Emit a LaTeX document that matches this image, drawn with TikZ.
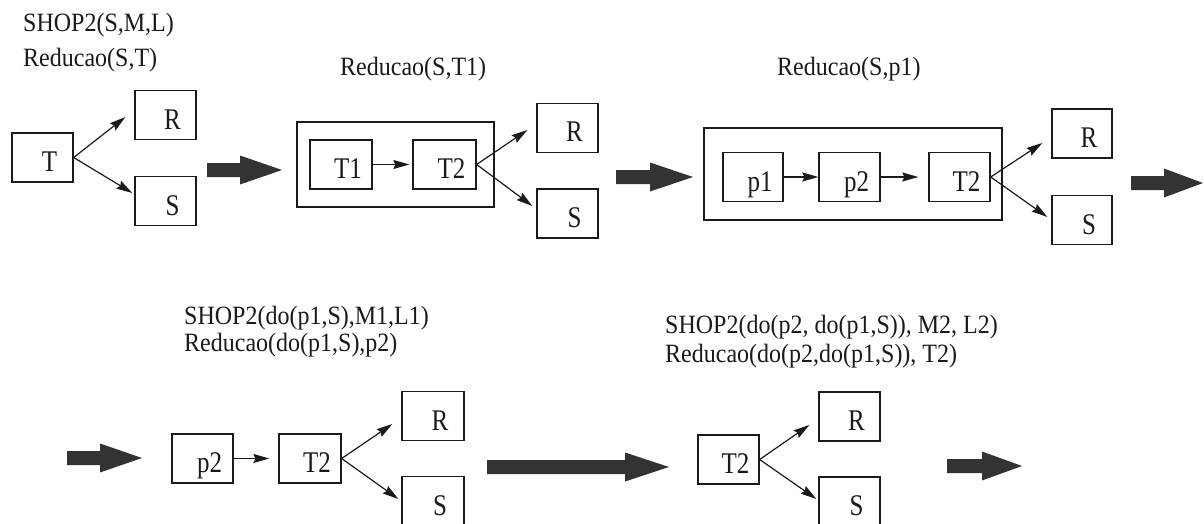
\documentclass[tikz,border=0pt]{standalone}
\usepackage{fontspec}
\usepackage{graphicx}
\setmainfont{Liberation Serif}
\usetikzlibrary{arrows.meta}
\definecolor{ink}{HTML}{1A1A1A}
\definecolor{heavy}{HTML}{333333}
% text inside a task box: a little taller, and right of centre
\newcommand\boxlbl[1]{\hspace*{14pt}\scalebox{1}[1.2]{#1}}
% captions above the stages, slightly tall
\newcommand\capt[1]{\scalebox{1}[1.1]{#1}}
% thick transition arrow: tail x, tip x, head base x, centre y
\newcommand\fatarrow[4]{%
  \fill[heavy] (#1,#4-7) -- (#3,#4-7) -- (#3,#4-14.5) -- (#2,#4)
    -- (#3,#4+14.5) -- (#3,#4+7) -- (#1,#4+7) -- cycle;}
\tikzset{
  box/.style={draw=ink, line width=1.3pt, minimum width=61pt, minimum height=49pt,
    inner sep=0pt, text height=30pt, text depth=2pt, text=ink,
    font=\fontsize{25}{29}\selectfont},
  frame/.style={draw=ink, line width=1.3pt, inner sep=0pt},
  link/.style={draw=ink, line width=1.2pt, -{Stealth[length=16pt,width=9pt,inset=2pt]}},
  caption/.style={anchor=base west, inner sep=0pt, text=ink,
    font=\fontsize{24}{28}\selectfont}
}
\begin{document}
\begin{tikzpicture}[x=1pt,y=-1pt]
\clip (0,0) rectangle (1204,524);
\fill[white] (0,0) rectangle (1204,524);

% ---- stage 1: T splits into R and S
\node[caption] (c1a) at (23,32) {\capt{SHOP2(S,M,L)}};
\node[caption] (c1b) at (23,67) {\capt{Reducao(S,T)}};
\node[box] (T)  at (42.5,157.5) {\boxlbl{T}};
\node[box] (R1) at (165.5,115)  {\boxlbl{R}};
\node[box] (S1) at (165.5,201)  {\boxlbl{S}};
\draw[link] (T.east) -- ([shift={(-9,2)}]R1.west);
\draw[link] (T.east) -- ([shift={(-2,-8)}]S1.west);
\fatarrow{207}{282}{240}{170}

% ---- stage 2: T reduced to T1 -> T2
\node[caption] (c2) at (340,76) {\capt{Reducao(S,T1)}};
\node[frame, minimum width=197pt, minimum height=85pt] (F2) at (395.5,164.5) {};
\node[box, minimum width=62pt] (T1) at (341,164.5) {\boxlbl{T1}};
\node[box, minimum width=63pt] (T2a) at (444.5,164.5) {\boxlbl{T2}};
\node[box] (R2) at (567.5,128)   {\boxlbl{R}};
\node[box] (S2) at (567.5,213.5) {\boxlbl{S}};
\draw[link] (T1.east) -- ([shift={(-3,0)}]T2a.west);
\draw[link] (T2a.east) -- ([shift={(-9,2)}]R2.west);
\draw[link] (T2a.east) -- ([shift={(-4,-7.5)}]S2.west);
\fatarrow{616}{693}{650}{177}

% ---- stage 3: T1 reduced to p1 -> p2
\node[caption] (c3) at (777,76) {\capt{Reducao(S,p1)}};
\node[frame, minimum width=298pt, minimum height=92pt] (F3) at (853,174) {};
\node[box, minimum width=60pt] (P1) at (753,177)   {\boxlbl{p1}};
\node[box] (P2)  at (849.5,177) {\boxlbl{p2}};
\node[box] (T2b) at (959.5,177) {\boxlbl{T2}};
\node[box, minimum width=60pt] (R3) at (1082,133.5) {\boxlbl{R}};
\node[box, minimum width=60pt] (S3) at (1082,220)   {\boxlbl{S}};
\draw[link] (P1.east) -- (P2.west);
\draw[link] (P2.east) -- ([shift={(-10,0)}]T2b.west);
\draw[link] (T2b.east) -- ([shift={(-9,9.5)}]R3.west);
\draw[link] (T2b.east) -- ([shift={(-4,-3)}]S3.west);
\fatarrow{1131}{1203}{1164}{183}

% ---- stage 4: after executing p1
\fatarrow{67}{142}{100}{458}
\node[caption] (c4a) at (184,324) {\capt{SHOP2(do(p1,S),M1,L1)}};
\node[caption] (c4b) at (184,351) {\capt{Reducao(do(p1,S),p2)}};
\node[box] (P2c) at (202.5,458.5) {\boxlbl{p2}};
\node[box, minimum width=62pt] (T2c) at (310,458.5) {\boxlbl{T2}};
\node[box, minimum width=62pt] (R4) at (433,416) {\boxlbl{R}};
\node[box, minimum width=62pt] (S4) at (433,501) {\boxlbl{S}};
\draw[link] (P2c.east) -- ([shift={(-9,0)}]T2c.west);
\draw[link] (T2c.east) -- ([shift={(-9,8)}]R4.west);
\draw[link] (T2c.east) -- ([shift={(-3,-2)}]S4.west);
\fatarrow{487}{669}{625}{467}

% ---- stage 5: after executing p2
\node[caption] (c5a) at (665,333) {\capt{SHOP2(do(p2, do(p1,S)), M2, L2)}};
\node[caption] (c5b) at (665,362) {\capt{Reducao(do(p2,do(p1,S)), T2)}};
\node[box] (T2d) at (728.5,459.5) {\boxlbl{T2}};
\node[box] (R5) at (849.5,416.5) {\boxlbl{R}};
\node[box] (S5) at (849.5,501.5) {\boxlbl{S}};
\draw[link] (T2d.east) -- ([shift={(-9,8.5)}]R5.west);
\draw[link] (T2d.east) -- ([shift={(-2,-2.5)}]S5.west);
\fatarrow{947}{1022}{982}{466}
\end{tikzpicture}
\end{document}
